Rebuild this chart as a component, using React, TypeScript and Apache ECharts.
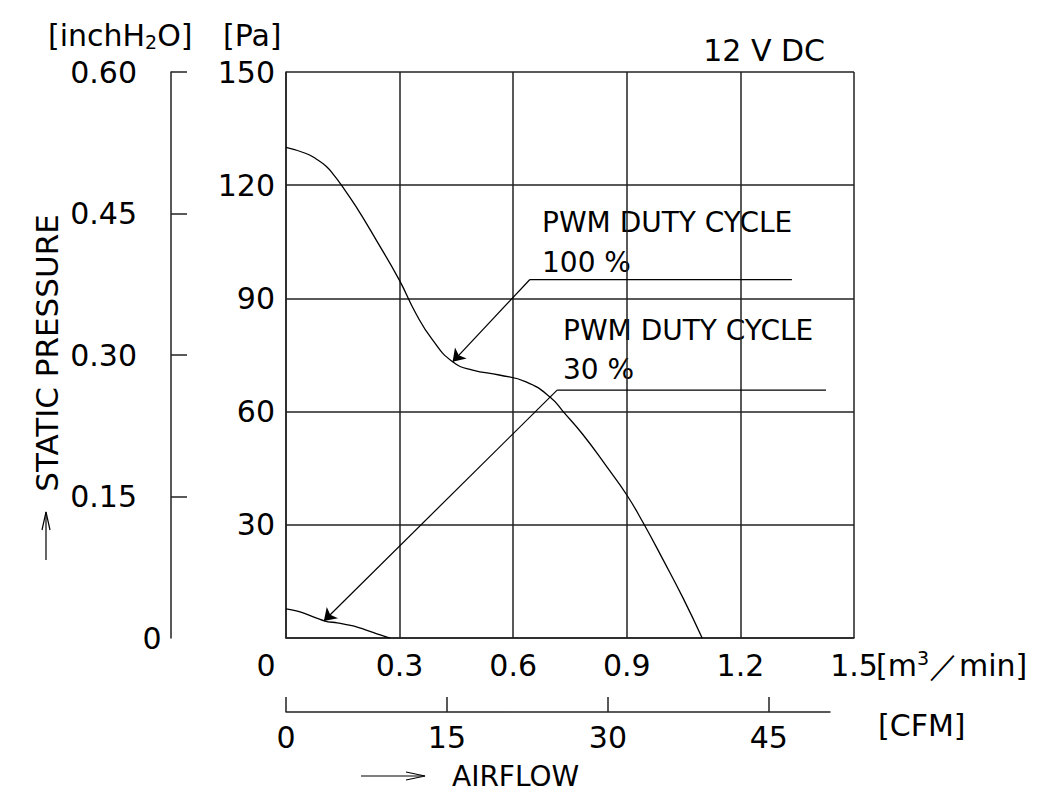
import React, { useEffect, useRef } from "react";
import * as echarts from "echarts";

// ---- data ----
const flowTicks = [0, 0.3, 0.6, 0.9, 1.2, 1.5];
const paTicks = [0, 30, 60, 90, 120, 150];
const inchTicks = [0, 0.15, 0.3, 0.45, 0.6];
const cfmTicks = [0, 15, 30, 45];

const flow100 = [0, 0.053, 0.079, 0.106, 0.127, 0.145, 0.185, 0.238, 0.299, 0.343, 0.387, 0.44, 0.493, 0.563, 0.634, 0.697, 0.732, 0.785, 0.847, 0.9, 0.944, 0.996, 1.049, 1.099];
const pressure100 = [130.0, 128.4, 127.0, 125.0, 122.6, 120.2, 114.3, 105.5, 94.9, 86.0, 79.0, 73.2, 71.0, 69.7, 67.9, 63.9, 60.0, 53.8, 45.4, 37.9, 30.4, 20.7, 10.5, 0];

const flow30 = [0, 0.037, 0.103, 0.135, 0.188, 0.24, 0.275];
const pressure30 = [7.7, 6.9, 4.5, 4.0, 2.9, 1.1, 0];

// leader lines: elbow, end of horizontal, arrow tip
const leader100 = { elbow: [0.644, 95], end: [1.336, 95], tip: [0.44, 73.2] };
const leader30 = { elbow: [0.716, 65.7], end: [1.426, 65.7], tip: [0.1, 4.5] };

const FONT = "DejaVu Sans";
const FS = 30;
const INK = "#222";

export default function App() {
  const ref = useRef<HTMLDivElement>(null);
  useEffect(() => {
    const chart = echarts.init(ref.current!, null, { renderer: "svg" });
    const zip = (a: number[], b: number[]) => a.map((v, i) => [v, b[i]]);
    const txt = (text: string, x: number, y: number, size = FS, align = "left") => ({
      type: "text",
      x,
      y,
      style: { text, fontFamily: FONT, fontSize: size, fill: "#000", align, verticalAlign: "middle" },
    });
    const leaderSeries = (name: string, l: { elbow: number[]; end: number[]; tip: number[] }) => ({
      name,
      type: "line",
      data: [l.elbow, l.end],
      showSymbol: false,
      lineStyle: { color: "#000", width: 1.2 },
      silent: true,
      markLine: {
        silent: true,
        symbol: ["none", "arrow"],
        symbolSize: 12,
        label: { show: false },
        lineStyle: { color: "#000", width: 1.2, type: "solid" },
        data: [[{ coord: l.elbow }, { coord: l.tip }]],
      },
    });
    chart.setOption({
      animation: false,
      backgroundColor: "#fff",
      textStyle: { fontFamily: FONT },
      grid: [
        { left: 286, top: 72, width: 568, height: 566 },
        { left: 286, top: 700, width: 544, height: 12 },
      ],
      xAxis: [
        {
          gridIndex: 0,
          type: "value",
          min: flowTicks[0],
          max: flowTicks[flowTicks.length - 1],
          interval: 0.3,
          axisLine: { show: true, lineStyle: { color: INK, width: 1.5 } },
          axisTick: { show: false },
          splitLine: { show: true, lineStyle: { color: INK, width: 1.5 } },
          axisLabel: {
            margin: 12,
            fontFamily: FONT,
            fontSize: FS,
            color: "#000",
            formatter: (v: number) => (v === 0 ? "{o|0}" : String(+v.toFixed(1))),
            rich: { o: { fontFamily: FONT, fontSize: FS, color: "#000", padding: [0, 40, 0, 0] } },
          },
        },
        {
          gridIndex: 1,
          type: "value",
          min: 0,
          max: 50.7,
          position: "bottom",
          axisLine: { show: true, lineStyle: { color: INK, width: 1.5 } },
          axisTick: { show: true, inside: true, length: 15, customValues: cfmTicks, lineStyle: { color: INK, width: 1.5 } },
          splitLine: { show: false },
          axisLabel: { customValues: cfmTicks, margin: 10, fontFamily: FONT, fontSize: FS, color: "#000" },
        },
      ],
      yAxis: [
        {
          gridIndex: 0,
          type: "value",
          min: paTicks[0],
          max: paTicks[paTicks.length - 1],
          interval: 30,
          axisLine: { show: true, lineStyle: { color: INK, width: 1.5 } },
          axisTick: { show: false },
          splitLine: { show: true, lineStyle: { color: INK, width: 1.5 } },
          axisLabel: { showMinLabel: false, margin: 11, fontFamily: FONT, fontSize: FS, color: "#000" },
        },
        {
          gridIndex: 0,
          type: "value",
          position: "left",
          offset: 115,
          min: inchTicks[0],
          max: inchTicks[inchTicks.length - 1],
          interval: 0.15,
          axisLine: { show: true, lineStyle: { color: INK, width: 1.5 } },
          axisTick: { show: true, inside: true, length: 16, lineStyle: { color: INK, width: 1.5 } },
          splitLine: { show: false },
          axisLabel: {
            showMinLabel: false,
            margin: 34,
            fontFamily: FONT,
            fontSize: FS,
            color: "#000",
            formatter: (v: number) => v.toFixed(2),
          },
        },
        { gridIndex: 1, type: "value", show: false, min: 0, max: 1 },
      ],
      series: [
        {
          name: "PWM 100 %",
          type: "line",
          data: zip(flow100, pressure100),
          smooth: 0.5,
          showSymbol: false,
          lineStyle: { color: "#000", width: 1.3 },
          silent: true,
        },
        {
          name: "PWM 30 %",
          type: "line",
          data: zip(flow30, pressure30),
          smooth: 0.35,
          showSymbol: false,
          lineStyle: { color: "#000", width: 1.3 },
          silent: true,
        },
        leaderSeries("leader100", leader100),
        leaderSeries("leader30", leader30),
      ],
      graphic: [
        {
          type: "text",
          x: 48,
          y: 35,
          style: {
            text: "[inchH{s|2}O]",
            fontFamily: FONT,
            fontSize: FS,
            fill: "#000",
            verticalAlign: "middle",
            rich: { s: { fontFamily: FONT, fontSize: 19, fill: "#000", padding: [14, 0, 0, 0] } },
          },
        },
        txt("[Pa]", 223, 35),
        txt("12 V DC", 825, 50, FS, "right"),
        txt("0", 152, 638, FS, "center"),
        {
          type: "text",
          x: 876,
          y: 665,
          style: {
            text: "[m{p|3}／min]",
            fontFamily: FONT,
            fontSize: FS,
            fill: "#000",
            verticalAlign: "middle",
            rich: { p: { fontFamily: FONT, fontSize: 19, fill: "#000", padding: [0, 0, 14, 0] } },
          },
        },
        txt("[CFM]", 878, 725),
        txt("PWM DUTY CYCLE", 542, 222, 28),
        txt("100 %", 542, 262, 28),
        txt("PWM DUTY CYCLE", 563, 330, 28),
        txt("30 %", 563, 369, 28),
        txt("AIRFLOW", 452, 776, 28),
        {
          type: "text",
          x: 47,
          y: 353,
          rotation: Math.PI / 2,
          style: { text: "STATIC PRESSURE", fontFamily: FONT, fontSize: 31, fill: "#000", align: "center", verticalAlign: "middle" },
        },
        { type: "line", shape: { x1: 361, y1: 776, x2: 425, y2: 776 }, style: { stroke: "#000", lineWidth: 1.2 } },
        { type: "polyline", shape: { points: [[406, 772], [425, 776], [406, 780]] }, style: { stroke: "#000", lineWidth: 1.2, fill: "none" } },
        { type: "line", shape: { x1: 46, y1: 560, x2: 46, y2: 512 }, style: { stroke: "#000", lineWidth: 1.2 } },
        { type: "polyline", shape: { points: [[42, 530], [46, 512], [50, 530]] }, style: { stroke: "#000", lineWidth: 1.2, fill: "none" } },
      ],
    });
    return () => chart.dispose();
  }, []);
  return <div ref={ref} style={{ position: "absolute", left: 0, top: 0, width: 1062, height: 793 }} />;
}
